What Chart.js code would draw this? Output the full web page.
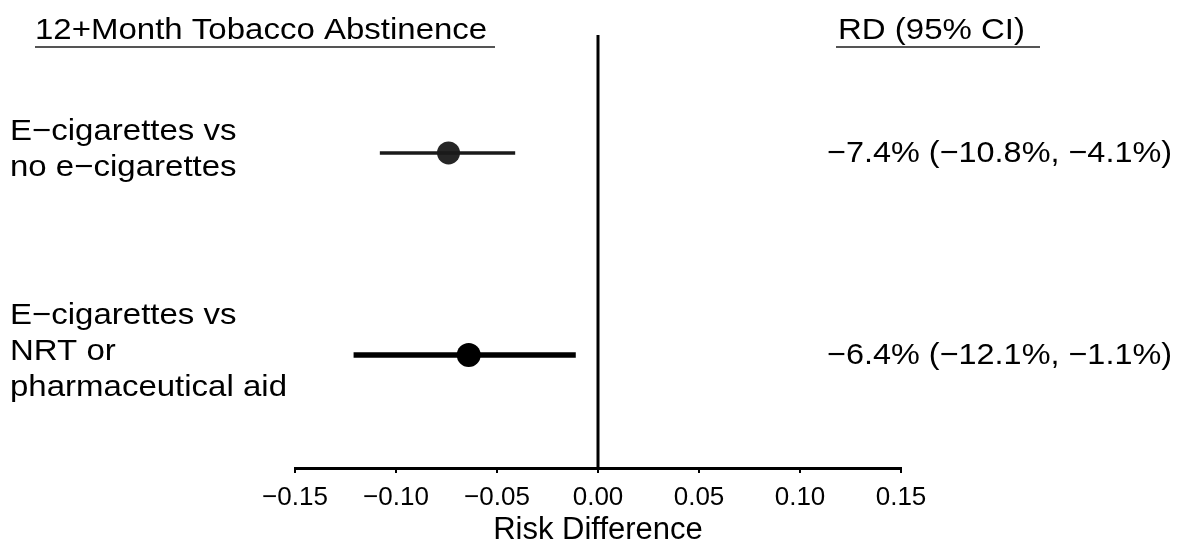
<!DOCTYPE html>
<html>
<head>
<meta charset="utf-8">
<script src="https://cdn.jsdelivr.net/npm/chart.js@4/dist/chart.umd.min.js"></script>
<style>
  html, body { margin: 0; padding: 0; background: #ffffff; }
  #wrap { width: 1185px; height: 546px; position: relative; }
</style>
</head>
<body>
<div id="wrap"><canvas id="c" width="1185" height="546"></canvas></div>
<script>
// ---- data ----
const rows = [1, 2];
const rowLabels = [
  ["E\u2212cigarettes vs", "no e\u2212cigarettes"],
  ["E\u2212cigarettes vs", "NRT or", "pharmaceutical aid"]
];
const estimates = [-0.074, -0.064];
const lowerCI = [-0.108, -0.121];
const upperCI = [-0.041, -0.011];
const rdTexts = ["\u22127.4% (\u221210.8%, \u22124.1%)", "\u22126.4% (\u221212.1%, \u22121.1%)"];
const tickValues = [-0.15, -0.10, -0.05, 0.00, 0.05, 0.10, 0.15];
const tickLabels = ["\u22120.15", "\u22120.10", "\u22120.05", "0.00", "0.05", "0.10", "0.15"];
const leftHeader = "12+Month Tobacco Abstinence";
const rightHeader = "RD (95% CI)";
const xTitle = "Risk Difference";

const Y_MIN = 0.416, Y_MAX = 2.56;
const FONT = "'Liberation Sans', Arial, Helvetica, sans-serif";

const datasets = [];
// zero reference line
datasets.push({
  type: 'line',
  data: [{x: 0, y: Y_MIN}, {x: 0, y: Y_MAX}],
  borderColor: '#000', borderWidth: 3, pointRadius: 0, showLine: true, fill: false
});
// CI lines
const ciWidths = [3.5, 5.5];
const ciColors = ['#1a1a1a', '#000000'];
rows.forEach((r, i) => {
  datasets.push({
    type: 'line',
    data: [{x: lowerCI[i], y: r}, {x: upperCI[i], y: r}],
    borderColor: ciColors[i], borderWidth: ciWidths[i], pointRadius: 0, showLine: true, fill: false,
    borderCapStyle: 'butt'
  });
});
// point estimates
datasets.push({
  type: 'scatter',
  data: rows.map((r, i) => ({x: estimates[i], y: r})),
  backgroundColor: ['#262626', '#000000'],
  borderColor: ['#262626', '#000000'],
  borderWidth: 0,
  pointRadius: [11.5, 12],
  pointHoverRadius: [11.5, 12]
});

function drawScaledText(ctx, str, x, y, size, align, sx) {
  ctx.save();
  ctx.translate(x, y);
  ctx.scale(sx, 1);
  ctx.font = size + 'px ' + FONT;
  ctx.textAlign = align;
  ctx.textBaseline = 'middle';
  ctx.fillStyle = '#000';
  ctx.fillText(str, 0, 0);
  ctx.restore();
}

const textPlugin = {
  id: 'forestText',
  afterDraw(chart) {
    const ctx = chart.ctx;
    const yS = chart.scales.y;
    const SX = 1.1;
    // headers
    drawScaledText(ctx, leftHeader, 35, 31, 30, 'left', SX);
    drawScaledText(ctx, rightHeader, 838, 31, 30, 'left', SX);
    ctx.save();
    ctx.strokeStyle = '#555';
    ctx.lineWidth = 2;
    ctx.beginPath();
    ctx.moveTo(35, 47); ctx.lineTo(495, 47);
    ctx.moveTo(836, 47); ctx.lineTo(1040, 47);
    ctx.stroke();
    ctx.restore();
    // row labels and RD text
    rows.forEach((r, i) => {
      const py = yS.getPixelForValue(r);
      const lines = rowLabels[i];
      const n = lines.length;
      lines.forEach((ln, j) => {
        const ly = py - 3 + (j - (n - 1) / 2) * 36;
        drawScaledText(ctx, ln, 10, ly, 30, 'left', SX);
      });
      drawScaledText(ctx, rdTexts[i], 1172, py + 1, 30, 'right', 1.08);
    });
  }
};

new Chart(document.getElementById('c'), {
  data: { datasets },
  options: {
    responsive: false,
    animation: false,
    events: [],
    layout: { padding: { left: 295, right: 284, top: 35, bottom: 0 } },
    plugins: { legend: { display: false }, tooltip: { enabled: false } },
    scales: {
      x: {
        type: 'linear',
        min: -0.15, max: 0.15,
        afterBuildTicks(scale) { scale.ticks = tickValues.map(v => ({ value: v })); },
        afterFit(scale) { scale.height = 78; },
        ticks: {
          autoSkip: false,
          maxRotation: 0,
          color: '#000',
          padding: 9,
          font: { family: FONT, size: 26 },
          callback(value, index) { return tickLabels[index]; }
        },
        grid: { drawOnChartArea: false, drawTicks: true, tickLength: 5, color: '#000', lineWidth: 2 },
        border: { display: true, color: '#000', width: 3 },
        title: {
          display: true, text: xTitle, color: '#000',
          font: { family: FONT, size: 31, lineHeight: 1.0 },
          padding: { top: 0, bottom: 0 }
        }
      },
      y: {
        type: 'linear', display: false, reverse: true,
        min: Y_MIN, max: Y_MAX
      }
    }
  },
  plugins: [textPlugin]
});
</script>
</body>
</html>
